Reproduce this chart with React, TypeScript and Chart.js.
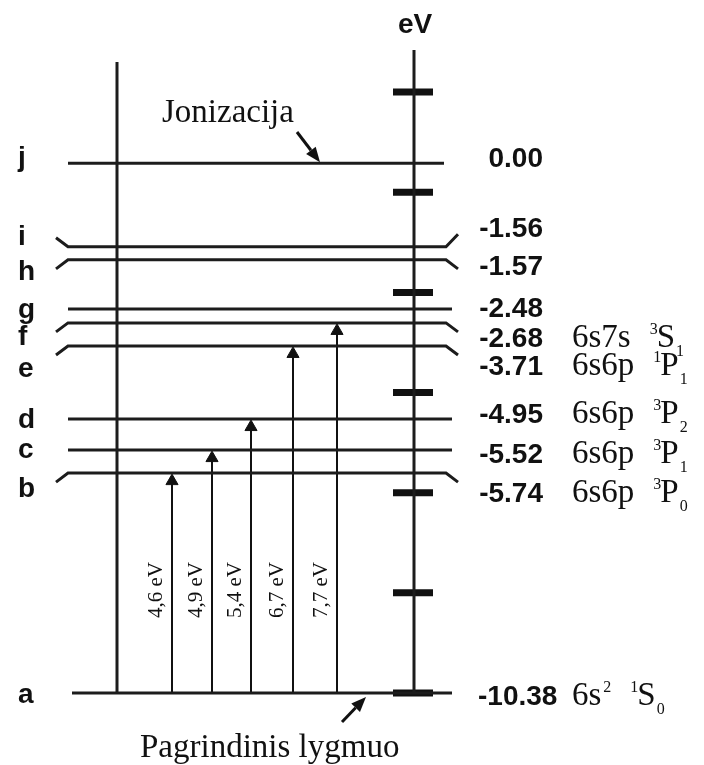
import React, { useEffect, useRef } from 'react';
import { Chart, registerables } from 'chart.js';

Chart.register(...registerables);

// ---------- data ----------
const levelNames = ['a', 'b', 'c', 'd', 'e', 'f', 'g', 'h', 'i', 'j'];
const levelEnergies = [-10.38, -5.74, -5.52, -4.95, -3.71, -2.68, -2.48, -1.57, -1.56, 0.0];
// where each level sits on the (schematic) eV axis of the drawing
const levelPositions = [-10.0, -5.61, -5.15, -4.53, -3.07, -2.61, -2.33, -1.35, -1.09, 0.58];
const axisTicks = [-10, -8, -6, -4, -2, 0, 2];

const configLevels = ['a', 'b', 'c', 'd', 'e', 'f'];
const configNames = ['6s', '6s6p', '6s6p', '6s6p', '6s6p', '6s7s'];
const configSup = ['2', '', '', '', '', ''];
const termMult = ['1', '3', '3', '3', '1', '3'];
const termL = ['S', 'P', 'P', 'P', 'P', 'S'];
const termJ = ['0', '0', '1', '2', '1', '1'];

const transitionTargets = ['b', 'c', 'd', 'e', 'f'];
const transitionEnergies = [4.6, 4.9, 5.4, 6.7, 7.7];

const ionizationText = 'Jonizacija';
const groundText = 'Pagrindinis lygmuo';
const axisUnit = 'eV';

// ---------- layout / style ----------
const W = 704;
const H = 765;
const Y_MAX = 3.84;
const Y_MIN = -11.44;
const PX_PER_UNIT = H / (Y_MAX - Y_MIN);
const LINE_COLOR = '#1c1c1c';
const TEXT_COLOR = '#111111';
const SANS = '"Liberation Sans", Arial, sans-serif';
const SERIF = '"Liberation Serif", "Times New Roman", serif';

const LEVEL_LEFT = 68;
const LEVEL_RIGHT = 452;
const LEVEL_EXTENT: Record<string, [number, number]> = { a: [72, 452], j: [68, 444] };
const CURL_DX = 12;
const CURL_DY = 9 / PX_PER_UNIT;
const CURLS: Record<string, number> = { b: -1, e: -1, f: -1, h: -1, i: 1 };

const LEFT_LINE_X = 117;
const LEFT_LINE_TOP = 2.6;
const AXIS_X = 414;
const AXIS_TOP = 2.84;
const ARROW_X = [172, 212, 251, 293, 337];
const ARROW_TIP_GAP = 8 / PX_PER_UNIT;

const LETTER_X = 18;
const LETTER_DY: Record<string, number> = { a: 10, b: 24, c: 8, d: 9, e: 31, f: 22, g: 9, h: 20, i: -2, j: 3 };
const LABEL_DY: Record<string, number> = { a: 12, b: 29, c: 13, d: 4, e: 29, f: 24, g: 8, h: 15, i: -10, j: 4 };
const LABEL_RIGHT = 543;
const LABEL_LEFT_WIDE = 478;
const CONFIG_X = 572;

const pos = (name: string) => levelPositions[levelNames.indexOf(name)];

function buildDatasets() {
  const ds: any[] = [];
  // energy levels
  levelNames.forEach((n, i) => {
    const y = levelPositions[i];
    const [l, r] = LEVEL_EXTENT[n] || [LEVEL_LEFT, LEVEL_RIGHT];
    const c = CURLS[n];
    const pts: any[] = [];
    if (c) pts.push({ x: l - CURL_DX, y: y + c * CURL_DY });
    pts.push({ x: l, y });
    pts.push({ x: c ? r - 6 : r, y });
    if (c) pts.push({ x: r + 6, y: y + c * (n === 'i' ? CURL_DY * 1.4 : CURL_DY) });
    ds.push({
      data: pts,
      showLine: true,
      borderColor: LINE_COLOR,
      borderWidth: 3,
      pointRadius: 0,
      tension: 0,
    });
  });
  // left vertical line
  ds.push({
    data: [
      { x: LEFT_LINE_X, y: levelPositions[0] },
      { x: LEFT_LINE_X, y: LEFT_LINE_TOP },
    ],
    showLine: true,
    borderColor: LINE_COLOR,
    borderWidth: 3,
    pointRadius: 0,
  });
  // eV axis line
  ds.push({
    data: [
      { x: AXIS_X, y: levelPositions[0] },
      { x: AXIS_X, y: AXIS_TOP },
    ],
    showLine: true,
    borderColor: LINE_COLOR,
    borderWidth: 3,
    pointRadius: 0,
  });
  // eV axis tick bars
  ds.push({
    data: axisTicks.map((t) => ({ x: AXIS_X - 1, y: t })),
    showLine: false,
    pointStyle: 'line',
    pointRadius: 20,
    pointHoverRadius: 20,
    pointBorderWidth: 7,
    pointBorderColor: '#111',
    borderColor: '#111',
  });
  // transition arrows
  transitionTargets.forEach((t, i) => {
    ds.push({
      data: [
        { x: ARROW_X[i], y: levelPositions[0] },
        { x: ARROW_X[i], y: pos(t) - ARROW_TIP_GAP },
      ],
      showLine: true,
      borderColor: '#111',
      borderWidth: 2,
      pointStyle: 'triangle',
      pointRadius: [0, 7],
      pointHoverRadius: [0, 7],
      pointBackgroundColor: '#111',
      pointBorderColor: '#111',
      pointBorderWidth: 1,
    });
  });
  return ds;
}

function drawArrow(ctx: CanvasRenderingContext2D, x1: number, y1: number, x2: number, y2: number) {
  const ang = Math.atan2(y2 - y1, x2 - x1);
  const len = 15;
  const hw = 6;
  const bx = x2 - Math.cos(ang) * len;
  const by = y2 - Math.sin(ang) * len;
  ctx.save();
  ctx.strokeStyle = '#111';
  ctx.fillStyle = '#111';
  ctx.lineWidth = 3;
  ctx.beginPath();
  ctx.moveTo(x1, y1);
  ctx.lineTo(bx, by);
  ctx.stroke();
  ctx.beginPath();
  ctx.moveTo(x2, y2);
  ctx.lineTo(bx + Math.sin(ang) * hw, by - Math.cos(ang) * hw);
  ctx.lineTo(bx - Math.sin(ang) * hw, by + Math.cos(ang) * hw);
  ctx.closePath();
  ctx.fill();
  ctx.restore();
}

const textPlugin = {
  id: 'levelText',
  afterDraw(chart: any) {
    const ctx: CanvasRenderingContext2D = chart.ctx;
    const ys = chart.scales.y;
    const py = (v: number) => ys.getPixelForValue(v);
    ctx.save();
    ctx.fillStyle = TEXT_COLOR;
    ctx.textBaseline = 'alphabetic';

    // axis unit
    ctx.font = `bold 28px ${SANS}`;
    ctx.textAlign = 'center';
    ctx.fillText(axisUnit, AXIS_X + 1, 33);

    // letters and energies
    levelNames.forEach((n, i) => {
      const y = py(levelPositions[i]);
      ctx.font = `bold 28px ${SANS}`;
      ctx.textAlign = 'left';
      ctx.fillText(n, LETTER_X, y + LETTER_DY[n]);
      const label = levelEnergies[i].toFixed(2);
      if (label.length > 5) {
        ctx.textAlign = 'left';
        ctx.fillText(label, LABEL_LEFT_WIDE, y + LABEL_DY[n]);
      } else {
        ctx.textAlign = 'right';
        ctx.fillText(label, LABEL_RIGHT, y + LABEL_DY[n]);
      }
    });

    // configurations and terms
    ctx.textAlign = 'left';
    configLevels.forEach((n, i) => {
      const base = py(pos(n)) + LABEL_DY[n];
      ctx.font = `33px ${SERIF}`;
      ctx.fillText(configNames[i], CONFIG_X, base);
      let x = CONFIG_X + ctx.measureText(configNames[i]).width;
      if (configSup[i]) {
        ctx.font = `16px ${SERIF}`;
        ctx.fillText(configSup[i], x + 2, base - 13);
        x += 2 + ctx.measureText(configSup[i]).width;
      }
      x += 19;
      ctx.font = `16px ${SERIF}`;
      ctx.fillText(termMult[i], x, base - 13);
      x += ctx.measureText(termMult[i]).width - 1;
      ctx.font = `33px ${SERIF}`;
      ctx.fillText(termL[i], x, base);
      x += ctx.measureText(termL[i]).width + 1;
      ctx.font = `16px ${SERIF}`;
      ctx.fillText(termJ[i], x, base + 9);
    });

    // transition labels
    ctx.font = `21px ${SERIF}`;
    ctx.textAlign = 'center';
    ctx.textBaseline = 'middle';
    transitionEnergies.forEach((e, i) => {
      ctx.save();
      ctx.translate(ARROW_X[i] - 16, 590);
      ctx.rotate(-Math.PI / 2);
      ctx.fillText(e.toFixed(1).replace('.', ',') + ' eV', 0, 0);
      ctx.restore();
    });

    // annotations
    ctx.textBaseline = 'alphabetic';
    ctx.textAlign = 'left';
    ctx.font = `33px ${SERIF}`;
    ctx.fillText(ionizationText, 162, 122);
    ctx.fillText(groundText, 140, 757);
    const jy = py(pos('j'));
    drawArrow(ctx, 297, 132, 320, jy - 1);
    const ay = py(pos('a'));
    drawArrow(ctx, 342, 722, 366, ay + 4);
    ctx.restore();
  },
};

export default function App() {
  const ref = useRef<HTMLCanvasElement>(null);
  useEffect(() => {
    if (!ref.current) return;
    const chart = new Chart(ref.current, {
      type: 'scatter',
      data: { datasets: buildDatasets() },
      options: {
        animation: false,
        responsive: false,
        maintainAspectRatio: false,
        events: [],
        layout: { padding: 0, autoPadding: false } as any,
        clip: false as any,
        plugins: { legend: { display: false }, tooltip: { enabled: false } },
        scales: {
          x: { type: 'linear', display: false, min: 0, max: W },
          y: { type: 'linear', display: false, min: Y_MIN, max: Y_MAX },
        },
      },
      plugins: [textPlugin],
    });
    return () => chart.destroy();
  }, []);
  return (
    <div style={{ position: 'absolute', left: 0, top: 0, width: W, height: H, background: '#fff' }}>
      <canvas ref={ref} width={W} height={H} style={{ display: 'block' }} />
    </div>
  );
}
